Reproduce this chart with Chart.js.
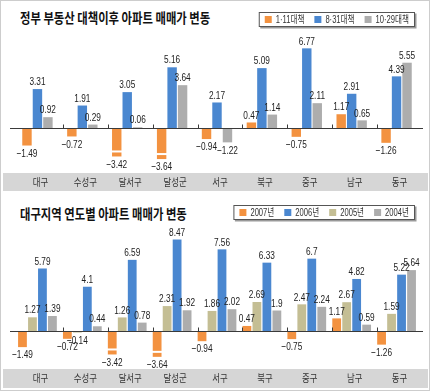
<!DOCTYPE html>
<html>
<head>
<meta charset="utf-8">
<script src="https://cdn.jsdelivr.net/npm/chart.js@4.4.1/dist/chart.umd.min.js"></script>
<style>
  body { margin: 0; width: 430px; height: 391px; overflow: hidden; background: #fff; }
  #frame { position: absolute; left: 0; top: 0; width: 430px; height: 391px; box-sizing: border-box; border: 1px solid #cdcdcd; }
  canvas { position: absolute; left: 0; }
  .title { position: absolute; left: 20px; font: bold 13.5px "Noto Sans CJK KR", sans-serif; color: #111;
           transform: scaleX(0.84); transform-origin: left center; white-space: nowrap; }
</style>
</head>
<body>
<div id="frame"></div>
<div class="title" style="top:7px">정부 부동산 대책이후 아파트 매매가 변동</div>
<canvas id="policyChart" width="430" height="195" style="top:0"></canvas>
<div class="title" style="top:203px">대구지역 연도별 아파트 매매가 변동</div>
<canvas id="yearChart" width="430" height="196" style="top:195px"></canvas>
<script>
// districts along the x axis
const districts = ["대구", "수성구", "달서구", "달성군", "서구", "북구", "중구", "남구", "동구"];

// top panel: change after each government measure (%)
const policyNames = ["1·11대책", "8·31대책", "10·29대책"];
const policy0111 = [-1.49, -0.72, -3.42, -3.64, -0.94, 0.47, -0.75, 1.17, -1.26];
const policy0831 = [3.31, 1.91, 3.05, 5.16, 2.17, 5.09, 6.77, 2.91, 4.39];
const policy1029 = [0.92, 0.29, 0.06, 3.64, -1.22, 1.14, 2.11, 0.65, 5.55];

// bottom panel: change by year (%)
const yearNames = ["2007년", "2006년", "2005년", "2004년"];
const y2007 = [-1.49, -0.72, -3.42, -3.64, -0.94, 0.47, -0.75, 1.17, -1.26];
const y2006 = [5.79, 4.1, 6.59, 8.47, 7.56, 6.33, 6.7, 4.82, 5.22];
const y2005 = [1.27, -0.14, 1.26, 2.31, 1.86, 2.69, 2.47, 2.67, 1.59];
const y2004 = [1.39, 0.44, 0.78, 1.92, 2.02, 1.9, 2.24, 0.59, 5.64];

const ORANGE = "#f39240", BLUE = "#4a87d0", GRAY = "#adadad", KHAKI = "#c4be94";

function squeeze(ctx, text, x, y, sx) {
  ctx.save();
  ctx.translate(x, y);
  ctx.scale(sx, 1);
  ctx.fillText(text, 0, 0);
  ctx.restore();
}

function fmt(v) {
  return (v < 0 ? "\u2212" : "") + Math.abs(v);
}

// spec: series (legend order), drawOrder (left-to-right in a group), axis break, geometry
function makePanel(id, spec) {
  const cut = v => (v < spec.breakBelow ? v + spec.breakSkip : v);

  const datasets = spec.drawOrder.map(k => {
    const s = spec.series[k];
    return {
      label: s.name,
      data: s.values.map(cut),
      backgroundColor: s.color,
      borderWidth: 0,
      categoryPercentage: spec.catPct,
      barPercentage: spec.barPct
    };
  });

  const deco = {
    id: "deco",
    beforeDatasetsDraw(chart) {
      const ctx = chart.ctx, xs = chart.scales.x;
      // grey category band
      ctx.fillStyle = "#d6d6d6";
      ctx.fillRect(3, spec.bandTop, 425, spec.bandH);
      ctx.fillStyle = "#333";
      ctx.font = "10.5px 'Noto Sans CJK KR', sans-serif";
      ctx.textAlign = "center";
      ctx.textBaseline = "middle";
      districts.forEach((d, i) => {
        squeeze(ctx, d, xs.getPixelForValue(i) + 3, spec.bandTop + spec.bandH / 2, 0.8);
      });
    },
    afterDatasetsDraw(chart) {
      const ctx = chart.ctx, xs = chart.scales.x, ys = chart.scales.y;
      const y0 = Math.round(ys.getPixelForValue(0)) + 0.5;

      // break marks on clipped bars
      chart.data.datasets.forEach((ds, di) => {
        const real = spec.series[spec.drawOrder[di]].values;
        chart.getDatasetMeta(di).data.forEach((bar, i) => {
          if (real[i] < spec.breakBelow) {
            ctx.fillStyle = "#fff";
            ctx.fillRect(bar.x - bar.width / 2 - 1, bar.y - 6, bar.width + 2, 2);
          }
        });
      });

      // zero line + small ticks between districts
      ctx.strokeStyle = "#3a3a3a";
      ctx.lineWidth = 1;
      ctx.beginPath();
      ctx.moveTo(10, y0);
      ctx.lineTo(423, y0);
      for (let i = 1; i < districts.length; i++) {
        const bx = Math.round((xs.getPixelForValue(i - 1) + xs.getPixelForValue(i)) / 2 + 3) + 0.5;
        ctx.moveTo(bx, y0 - 4);
        ctx.lineTo(bx, y0);
      }
      ctx.stroke();

      // value labels
      ctx.fillStyle = "#222";
      ctx.font = "11.5px 'Liberation Sans', Arial, sans-serif";
      ctx.textAlign = "center";
      ctx.textBaseline = "middle";
      chart.data.datasets.forEach((ds, di) => {
        const real = spec.series[spec.drawOrder[di]].values;
        chart.getDatasetMeta(di).data.forEach((bar, i) => {
          const v = real[i];
          const ty = v >= 0 ? bar.y - 7 : bar.y + 8;
          squeeze(ctx, fmt(v), bar.x, ty, 0.72);
        });
      });

      // boxed legend, right aligned
      ctx.font = "10px 'Liberation Sans', 'Noto Sans CJK KR', sans-serif";
      const sx = 0.76;
      const items = spec.series.map(s => ({ s, w: ctx.measureText(s.name).width * sx }));
      const inner = items.reduce((a, it) => a + 7 + 4 + it.w, 0) + (items.length - 1) * spec.legendGap;
      const bw = inner + 12, bh = 15;
      const bx = spec.legendRight - bw, by = spec.legendTop;
      ctx.fillStyle = "#999";
      ctx.fillRect(bx + 1.5, by + 1.5, bw, bh);
      ctx.fillStyle = "#fff";
      ctx.fillRect(bx, by, bw, bh);
      ctx.strokeStyle = "#555";
      ctx.strokeRect(bx + 0.5, by + 0.5, bw - 1, bh - 1);
      let cx = bx + 6;
      const cy = by + bh / 2;
      ctx.textAlign = "left";
      items.forEach(it => {
        ctx.fillStyle = it.s.color;
        ctx.fillRect(cx, cy - 3.5, 7, 7);
        cx += 11;
        ctx.fillStyle = "#333";
        squeeze(ctx, it.s.name, cx, cy + 0.5, sx);
        cx += it.w + spec.legendGap;
      });
    }
  };

  return new Chart(document.getElementById(id), {
    type: "bar",
    data: { labels: districts, datasets },
    options: {
      responsive: false,
      animation: false,
      layout: { padding: { left: 15, right: 11, top: 40, bottom: spec.padBottom } },
      scales: {
        x: { display: false },
        y: { display: false, min: spec.yMin, max: spec.yMax }
      },
      plugins: { legend: { display: false }, tooltip: { enabled: false } }
    },
    plugins: [deco]
  });
}

makePanel("policyChart", {
  series: [
    { name: policyNames[0], values: policy0111, color: ORANGE },
    { name: policyNames[1], values: policy0831, color: BLUE },
    { name: policyNames[2], values: policy1029, color: GRAY }
  ],
  drawOrder: [0, 1, 2],
  breakBelow: -3, breakSkip: 1.0,
  yMin: -3.74, yMax: 7.48, padBottom: 23,
  catPct: 0.7, barPct: 0.9,
  bandTop: 173, bandH: 18,
  legendRight: 415, legendTop: 12, legendGap: 10
});

makePanel("yearChart", {
  series: [
    { name: yearNames[0], values: y2007, color: ORANGE },
    { name: yearNames[1], values: y2006, color: BLUE },
    { name: yearNames[2], values: y2005, color: KHAKI },
    { name: yearNames[3], values: y2004, color: GRAY }
  ],
  drawOrder: [0, 2, 1, 3],
  breakBelow: -3, breakSkip: 1.25,
  yMin: -3.33, yMax: 8.89, padBottom: 24,
  catPct: 0.89, barPct: 0.88,
  bandTop: 174, bandH: 19,
  legendRight: 415, legendTop: 10, legendGap: 10
});
</script>
</body>
</html>
